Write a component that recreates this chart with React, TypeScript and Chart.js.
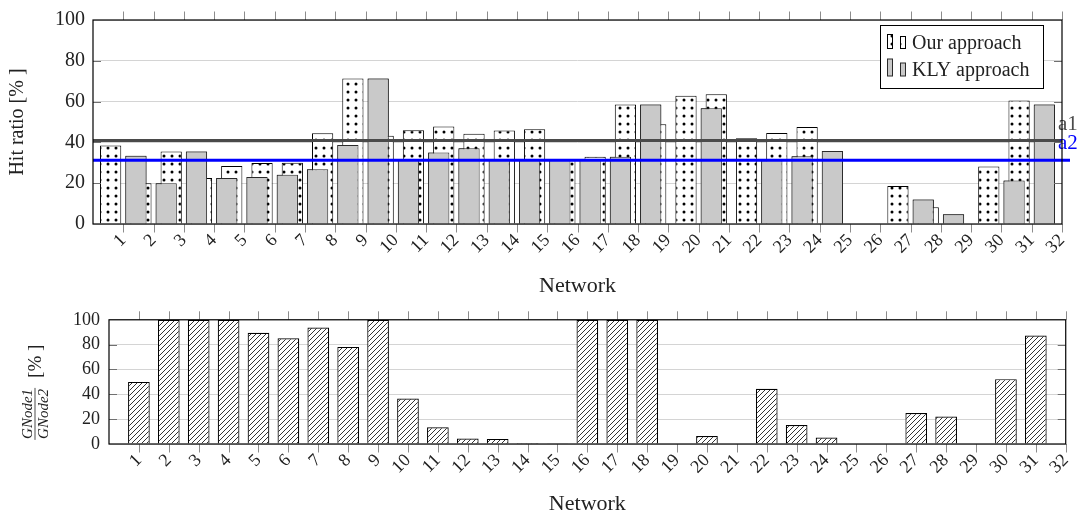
import React, { useEffect, useRef } from 'react';
import { Chart, registerables } from 'chart.js';

Chart.register(...registerables);

// ---------- data ----------
const networks = [1, 2, 3, 4, 5, 6, 7, 8, 9, 10, 11, 12, 13, 14, 15, 16, 17, 18, 19, 20, 21, 22, 23, 24, 25, 26, 27, 28, 29, 30, 31, 32];
const seriesNames = ['Our approach', 'KLY approach'];
const ourApproach = [38.5, 20.0, 35.6, 22.6, 28.4, 29.9, 30.0, 44.5, 71.3, 43.2, 45.9, 47.8, 44.3, 45.8, 46.5, 31.5, 33.0, 58.6, 48.9, 62.9, 63.6, 42.0, 44.6, 47.5, 0, 0, 18.6, 8.2, 0, 28.2, 60.5, 0];
const klyApproach = [33.4, 20.0, 35.6, 22.6, 23.1, 24.2, 26.8, 38.7, 71.3, 31.5, 35.0, 37.1, 31.5, 31.8, 31.8, 31.8, 33.0, 58.6, 0, 56.7, 0, 31.3, 33.2, 35.8, 0, 0, 12.0, 4.8, 0, 21.3, 58.6, 0];
const nodeRatio = [50, 100, 100, 100, 89.6, 85.2, 93.8, 78.2, 100, 36.6, 13.5, 4.4, 4.1, 0.8, 0.3, 100, 100, 100, 0, 6.5, 0, 44.4, 15.3, 5.2, 0, 0, 24.9, 22.1, 0, 52.2, 87.3, 0];
const averageNames = ['a1', 'a2'];
const averageValues = [40.9, 31.3];
const hitTitle = 'Hit ratio [% ]';
const xTitle = 'Network';
const ratioNumerator = 'GNode1';
const ratioDenominator = 'GNode2';
const ratioUnit = '[% ]';

const FONT = "'Liberation Serif', 'Times New Roman', serif";
const TXT = '#222';

function makeDots(): CanvasPattern | string {
  const c = document.createElement('canvas');
  c.width = 8; c.height = 8;
  const g = c.getContext('2d');
  if (!g) return '#fff';
  g.fillStyle = '#fff'; g.fillRect(0, 0, 8, 8);
  g.fillStyle = '#000';
  g.beginPath(); g.arc(4, 4, 1.5, 0, Math.PI * 2); g.fill();
  return g.createPattern(c, 'repeat') || '#fff';
}

function makeHatch(): CanvasPattern | string {
  const s = 5;
  const c = document.createElement('canvas');
  c.width = s; c.height = s;
  const g = c.getContext('2d');
  if (!g) return '#fff';
  g.fillStyle = '#fff'; g.fillRect(0, 0, s, s);
  g.strokeStyle = '#000'; g.lineWidth = 0.8;
  g.beginPath();
  g.moveTo(0, s); g.lineTo(s, 0);
  g.moveTo(-1, 1); g.lineTo(1, -1);
  g.moveTo(s - 1, s + 1); g.lineTo(s + 1, s - 1);
  g.stroke();
  return g.createPattern(c, 'repeat') || '#fff';
}

function drawFrameAndTicks(chart: any) {
  const { ctx, chartArea: ca, scales } = chart;
  const x = scales.x, y = scales.y;
  ctx.save();
  ctx.strokeStyle = '#8c8c8c';
  ctx.lineWidth = 1;
  ctx.beginPath();
  networks.forEach((n) => {
    const px = Math.round(x.getPixelForValue(n)) + 0.5;
    ctx.moveTo(px, ca.top - 8.5); ctx.lineTo(px, ca.top);
    ctx.moveTo(px, ca.bottom); ctx.lineTo(px, ca.bottom + 8.5);
  });
  ctx.stroke();
  ctx.strokeStyle = '#707070';
  ctx.beginPath();
  y.ticks.forEach((t: any) => {
    if (t.value <= y.min || t.value >= y.max) return;
    const py = Math.round(y.getPixelForValue(t.value)) + 0.5;
    ctx.moveTo(ca.left, py); ctx.lineTo(ca.left + 8, py);
    ctx.moveTo(ca.right - 8, py); ctx.lineTo(ca.right, py);
  });
  ctx.stroke();
  ctx.strokeStyle = '#000';
  ctx.lineWidth = 1.2;
  ctx.strokeRect(ca.left, ca.top, ca.right - ca.left, ca.bottom - ca.top);
  ctx.restore();
}

const topDecor = {
  id: 'topDecor',
  afterDatasetsDraw(chart: any) {
    const { ctx, chartArea: ca, scales } = chart;
    const y = scales.y;
    // KLY bars sit in front of our bars
    ctx.save();
    ctx.beginPath();
    ctx.rect(ca.left, ca.top, ca.right - ca.left, ca.bottom - ca.top);
    ctx.clip();
    chart.getDatasetMeta(1).controller.draw();
    ctx.restore();

    // average lines
    ctx.save();
    const pa1 = y.getPixelForValue(averageValues[0]);
    const pa2 = y.getPixelForValue(averageValues[1]);
    ctx.lineWidth = 3;
    ctx.strokeStyle = '#4a4a4a';
    ctx.beginPath(); ctx.moveTo(ca.left, pa1); ctx.lineTo(ca.right, pa1); ctx.stroke();
    ctx.strokeStyle = '#0000ff';
    ctx.beginPath(); ctx.moveTo(ca.left, pa2); ctx.lineTo(ca.right + 8, pa2); ctx.stroke();
    ctx.font = `21px ${FONT}`;
    ctx.textAlign = 'left';
    ctx.textBaseline = 'alphabetic';
    ctx.fillStyle = '#4a4a4a';
    ctx.fillText(averageNames[0], ca.right - 4, pa1 - 11);
    ctx.fillStyle = '#0000ff';
    ctx.fillText(averageNames[1], ca.right - 4, pa2 - 11);
    ctx.restore();

    drawFrameAndTicks(chart);

    // legend
    ctx.save();
    const lx = ca.right - 182, ly = ca.top + 5, lw = 163, lh = 63;
    ctx.fillStyle = '#fff';
    ctx.fillRect(lx, ly, lw, lh);
    ctx.strokeStyle = '#000';
    ctx.lineWidth = 1;
    ctx.strokeRect(lx + 0.5, ly + 0.5, lw, lh);
    const ds = chart.data.datasets;
    const rows = [
      { base: ly + 23.5, h1: 14, h2: 12 },
      { base: ly + 51, h1: 17, h2: 13 },
    ];
    rows.forEach((r, i) => {
      const d = ds[i];
      ctx.fillStyle = d.backgroundColor;
      ctx.strokeStyle = d.borderColor;
      ctx.lineWidth = 1;
      ctx.fillRect(lx + 7.5, r.base - r.h1, 5, r.h1);
      ctx.strokeRect(lx + 7.5, r.base - r.h1, 5, r.h1);
      ctx.fillRect(lx + 20.5, r.base - r.h2, 5, r.h2);
      ctx.strokeRect(lx + 20.5, r.base - r.h2, 5, r.h2);
      ctx.fillStyle = TXT;
      ctx.font = `20px ${FONT}`;
      ctx.textAlign = 'left';
      ctx.textBaseline = 'alphabetic';
      ctx.fillText(d.label, lx + 32, r.base);
    });
    ctx.restore();
  },
};

const bottomDecor = {
  id: 'bottomDecor',
  afterDatasetsDraw(chart: any) {
    drawFrameAndTicks(chart);
    const { ctx, chartArea: ca } = chart;
    ctx.save();
    ctx.translate(35, (ca.top + ca.bottom) / 2);
    ctx.rotate(-Math.PI / 2);
    ctx.fillStyle = TXT;
    ctx.font = `italic 15px ${FONT}`;
    ctx.textAlign = 'center';
    ctx.textBaseline = 'alphabetic';
    const fx = -32;
    ctx.fillText(ratioNumerator, fx, -3);
    ctx.fillText(ratioDenominator, fx, 13);
    const w = Math.max(ctx.measureText(ratioNumerator).width, ctx.measureText(ratioDenominator).width) + 2;
    ctx.fillRect(fx - w / 2, -0.4, w, 0.8);
    ctx.font = `19px ${FONT}`;
    ctx.textAlign = 'left';
    ctx.textBaseline = 'middle';
    ctx.fillText(ratioUnit, 4, 1);
    ctx.restore();
  },
};

function xScale(height: number, titlePad: number) {
  return {
    type: 'linear' as const,
    min: 0,
    max: 32,
    offset: false,
    grid: { display: false, drawTicks: false, offset: false },
    border: { display: false },
    ticks: {
      stepSize: 1,
      autoSkip: false,
      minRotation: 45,
      maxRotation: 45,
      padding: 6,
      color: TXT,
      font: { family: FONT, size: 18 },
      callback: (v: any) => (networks.includes(Number(v)) ? String(v) : ''),
    },
    title: {
      display: true,
      text: xTitle,
      color: TXT,
      font: { family: FONT, size: 22 },
      padding: { top: 0, bottom: titlePad },
    },
    afterFit: (s: any) => { s.height = height; },
  };
}

function HitChart() {
  const ref = useRef<HTMLCanvasElement>(null);
  useEffect(() => {
    if (!ref.current) return;
    const chart = new Chart(ref.current, {
      type: 'bar',
      data: {
        labels: networks,
        datasets: [
          {
            label: seriesNames[0], data: ourApproach, backgroundColor: makeDots(), borderColor: '#000',
            borderWidth: 1, categoryPercentage: 1.67, barPercentage: 0.84,
          },
          {
            label: seriesNames[1], data: klyApproach, backgroundColor: '#c9c9c9', borderColor: '#2a2a2a',
            borderWidth: 1, categoryPercentage: 1.67, barPercentage: 0.84,
          },
        ],
      } as any,
      options: {
        responsive: false,
        animation: false,
        layout: { padding: { left: 0, right: 25, top: 17, bottom: 0 } },
        plugins: { legend: { display: false }, tooltip: { enabled: false } },
        scales: {
          x: xScale(76, 1) as any,
          y: {
            min: 0,
            max: 100,
            ticks: { stepSize: 20, padding: 8, color: TXT, font: { family: FONT, size: 20 } },
            grid: { color: '#d4d4d4', drawTicks: false },
            border: { display: false },
            title: { display: true, text: hitTitle, color: TXT, font: { family: FONT, size: 20 }, padding: { top: 6, bottom: 0 } },
            afterFit: (s: any) => { s.width = 93; },
          },
        },
      },
      plugins: [topDecor],
    });
    return () => chart.destroy();
  }, []);
  return (
    <canvas ref={ref} width={1087} height={300}
      style={{ position: 'absolute', left: 0, top: 0, width: 1087, height: 300 }} />
  );
}

function RatioChart() {
  const ref = useRef<HTMLCanvasElement>(null);
  useEffect(() => {
    if (!ref.current) return;
    const chart = new Chart(ref.current, {
      type: 'bar',
      data: {
        labels: networks,
        datasets: [
          {
            label: 'ratio', data: nodeRatio, backgroundColor: makeHatch(), borderColor: '#000',
            borderWidth: 1.2, categoryPercentage: 1, barPercentage: 0.725,
          },
        ],
      } as any,
      options: {
        responsive: false,
        animation: false,
        layout: { padding: { left: 0, right: 21, top: 16, bottom: 0 } },
        plugins: { legend: { display: false }, tooltip: { enabled: false } },
        scales: {
          x: xScale(73, 0) as any,
          y: {
            min: 0,
            max: 100,
            ticks: { stepSize: 20, padding: 9, color: TXT, font: { family: FONT, size: 18 } },
            grid: { color: '#d4d4d4', drawTicks: false },
            border: { display: false },
            afterFit: (s: any) => { s.width = 109; },
          },
        },
      },
      plugins: [bottomDecor],
    });
    return () => chart.destroy();
  }, []);
  return (
    <canvas ref={ref} width={1087} height={217}
      style={{ position: 'absolute', left: 0, top: 300, width: 1087, height: 217 }} />
  );
}

export default function App() {
  return (
    <div style={{ position: 'absolute', left: 0, top: 0, width: 1087, height: 517, background: '#fff', overflow: 'hidden' }}>
      <HitChart />
      <RatioChart />
    </div>
  );
}
